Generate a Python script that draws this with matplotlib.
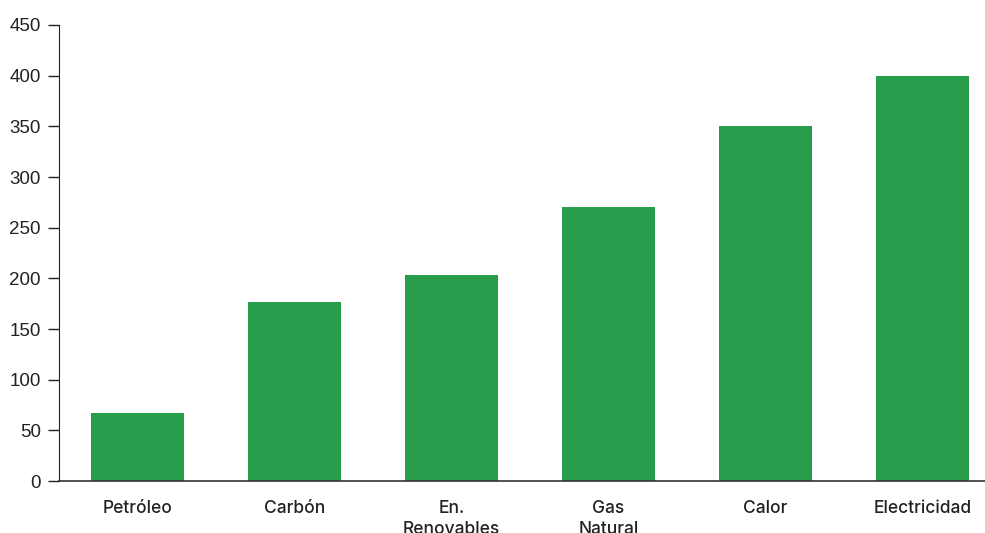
import matplotlib.pyplot as plt
import numpy as np

categories = ['Petróleo', 'Carbón', 'En.\nRenovables', 'Gas\nNatural', 'Calor', 'Electricidad']
values = [67, 177, 203, 270, 350, 400]

plt.rcParams['font.family'] = ['Liberation Sans', 'DejaVu Sans']

fig = plt.figure(figsize=(9.85, 5.33), dpi=100)
ax = fig.add_axes([59 / 985, 1 - 481 / 533, 1 - 59 / 985, (481 - 25) / 533])

x = np.arange(len(categories))
ax.bar(x, values, width=0.59, color='#289d4c', zorder=2)

ax.set_ylim(0, 450)
ax.set_xlim(-0.5, 5.4)
ax.set_yticks(np.arange(0, 451, 50))
ax.set_yticklabels([str(v) for v in range(0, 451, 50)], fontsize=13.5)
ax.set_xticks(x)
ax.set_xticklabels(categories, fontfamily='Inter', fontsize=12.5, fontweight='medium',
                   linespacing=1.35, va='top')

ax.tick_params(axis='y', length=8, width=1, pad=5, colors='#222222')
ax.tick_params(axis='x', length=0, pad=13.5, colors='#222222')

for s in ['top', 'right']:
    ax.spines[s].set_visible(False)
ax.spines['left'].set_color('#222222')
ax.spines['bottom'].set_color('#333333')
ax.spines['bottom'].set_linewidth(1.2)

fig.savefig('out.png', dpi=100)
